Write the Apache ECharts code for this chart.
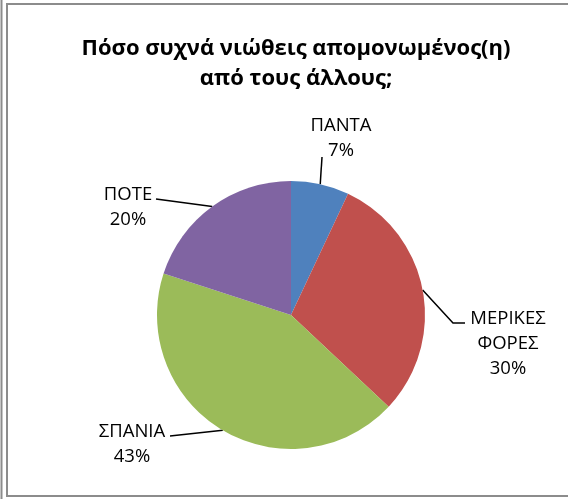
<!DOCTYPE html>
<html><head><meta charset="utf-8">
<script src="https://cdn.jsdelivr.net/npm/echarts@6/dist/echarts.min.js"></script>
<style>html,body{margin:0;padding:0;background:#fff}#c{width:568px;height:499px}</style>
</head><body><div id="c"></div>
<script>
const titleText = 'Πόσο συχνά νιώθεις απομονωμένος(η)\nαπό τους άλλους;';
const categories = ['ΠΑΝΤΑ', 'ΜΕΡΙΚΕΣ\nΦΟΡΕΣ', 'ΣΠΑΝΙΑ', 'ΠΟΤΕ'];
const values = [7, 30, 43, 20];
const colors = ['#4F81BD', '#C0504D', '#9BBB59', '#8064A2'];

// label placement (label centre, leader-line outer points)
const labelPos = [
  {x: 341, y: 138, line: [[322, 157]]},
  {x: 508, y: 344, line: [[453, 323], [465, 323]]},
  {x: 132, y: 444, line: [[170, 436]]},
  {x: 128, y: 207, line: [[156, 199]]}
];

const chart = echarts.init(document.getElementById('c'), null, {renderer: 'canvas'});
chart.setOption({
  backgroundColor: '#fff',
  animation: false,
  graphic: [
    {type: 'rect', shape: {x: 7, y: 4, width: 580, height: 492}, style: {fill: 'none', stroke: '#8c8c8c', lineWidth: 2}},
    {type: 'line', shape: {x1: 1.5, y1: 0, x2: 1.5, y2: 499}, style: {stroke: '#8c8c8c', lineWidth: 2}}
  ],
  title: {
    text: titleText,
    left: 291, top: 29, textAlign: 'center',
    textStyle: {fontFamily: 'Open Sans', fontWeight: 'bold', fontSize: 22, lineHeight: 30, color: '#000'}
  },
  series: [{
    type: 'pie',
    center: [291, 315],
    radius: 134,
    startAngle: 90,
    clockwise: true,
    data: categories.map((c, i) => ({name: c, value: values[i], itemStyle: {color: colors[i]}})),
    itemStyle: {borderColor: '#fff', borderWidth: 0},
    label: {
      show: true, position: 'outside',
      formatter: '{b}\n{d}%',
      fontFamily: 'Open Sans', fontSize: 18.5, lineHeight: 25, color: '#000', align: 'center'
    },
    labelLine: {show: true, length: 15, length2: 10, lineStyle: {color: '#000', width: 1.5}},
    labelLayout: function (p) {
      const L = labelPos[p.dataIndex];
      const p0 = (p.labelLinePoints && p.labelLinePoints[0]) || L.line[0];
      return {
        x: L.x, y: L.y, align: 'center', verticalAlign: 'middle',
        labelLinePoints: [p0].concat(L.line.length === 1 ? [L.line[0], L.line[0]] : L.line)
      };
    }
  }]
});
</script></body></html>
